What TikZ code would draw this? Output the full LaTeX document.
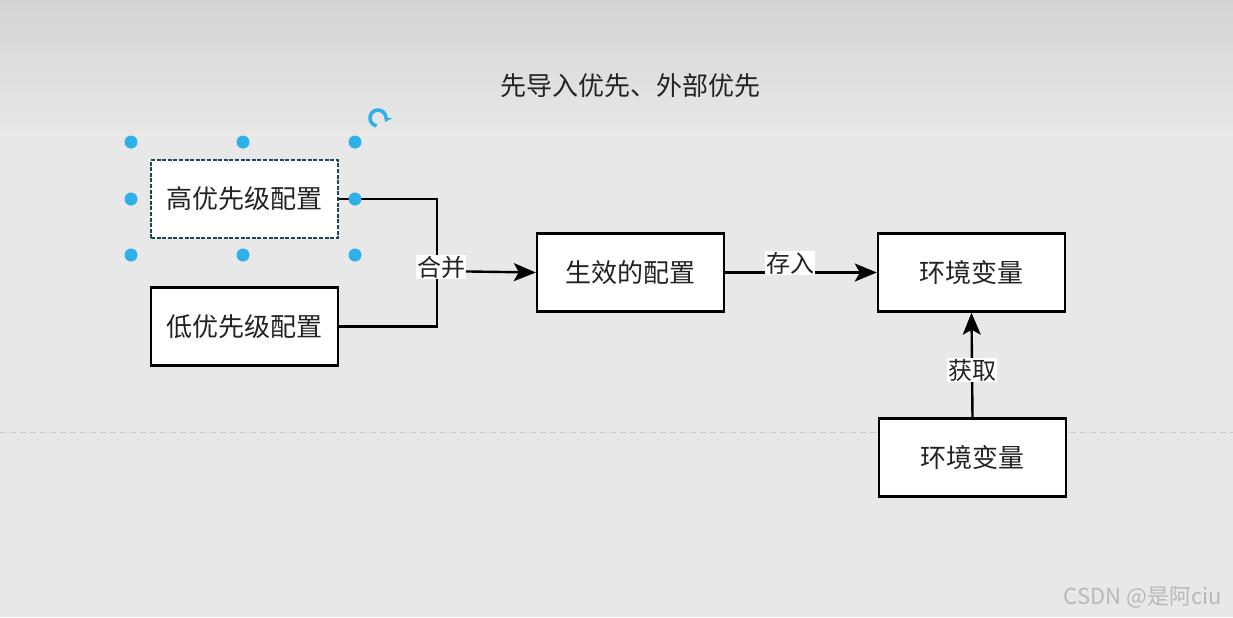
\documentclass[tikz,border=0pt]{standalone}
\usepackage{fontspec}
\setmainfont{Noto Sans CJK SC}
\usepackage{xcolor}
\usepackage{tikz}
\usetikzlibrary{arrows.meta,positioning,calc}

\definecolor{bgtop}{RGB}{212,212,212}
\definecolor{bgmain}{RGB}{232,232,232}
\definecolor{handleblue}{RGB}{47,176,234}
\definecolor{selborder}{RGB}{30,70,90}
\definecolor{txtdark}{RGB}{35,35,35}
\definecolor{marktext}{RGB}{185,185,185}

\begin{document}
\begin{tikzpicture}[x=0.5pt,y=-0.5pt,
    box/.style={draw=black,line width=1.2pt,fill=white,minimum width=93.5pt,
      minimum height=39pt,inner sep=0pt,font=\fontsize{13}{15}\selectfont,text=txtdark},
    conn/.style={draw=black,line width=1.2pt},
    arr/.style={conn,-{Stealth[length=11pt,width=9pt,inset=2.5pt]}},
    lbl/.style={fill=white,inner sep=0.6pt,font=\fontsize{12}{14}\selectfont,text=txtdark},
    handle/.style={circle,fill=handleblue,inner sep=0pt,minimum size=6.5pt}]
  \useasboundingbox (0,0) rectangle (1233,617);
  % background
  \fill[bgmain] (0,0) rectangle (1233,617);
  \shade[top color=bgtop,bottom color=bgmain] (0,0) rectangle (1233,135);
  \draw[black!20,line width=0.5pt,dash pattern=on 3pt off 2pt] (0,432) -- (1233,432);
  % title
  \node[font=\fontsize{13}{15}\selectfont,text=txtdark] (title) at (630,86) {先导入优先、外部优先};
  % boxes
  \node[box,draw=selborder,dash pattern=on 2pt off 0.8pt] (high) at (244.5,199) {高优先级配置};
  \node[box] (low) at (244.5,326.5) {低优先级配置};
  \node[box] (merged) at (630.5,272.5) {生效的配置};
  \node[box] (env) at (971.5,272.5) {环境变量};
  \node[box] (envsrc) at (972.5,457.5) {环境变量};
  \coordinate (join) at (437,271);
  % connectors
  \draw[conn] (high.east) -| (join);
  \draw[conn] (low.east) -| (join);
  \draw[arr] (join) -- (merged.west);
  \draw[arr] (merged.east) -- (env.west);
  \draw[arr] (envsrc.north) -- (env.south);
  \node[lbl] (hebing) at (441,267) {合并};
  \node[lbl] (cunru) at (790,263) {存入};
  \node[lbl] (huoqu) at (972,370) {获取};
  % selection handles
  \foreach \hx/\hy [count=\i] in {131/142,243/142,355/142,131/199,355/199,131/255,243/255,355/255}
    \node[handle] (h\i) at (\hx,\hy) {};
  \draw[handleblue,line width=1.8pt,-{Stealth[length=3.5pt,width=4.5pt]}]
    (378,118) ++(100:8) arc[start angle=100,end angle=390,radius=8];
  % watermark
  \node[font=\fontsize{11}{13}\selectfont,text=marktext,anchor=east] (mark) at (1229,598) {CSDN @是阿ciu};
\end{tikzpicture}
\end{document}
